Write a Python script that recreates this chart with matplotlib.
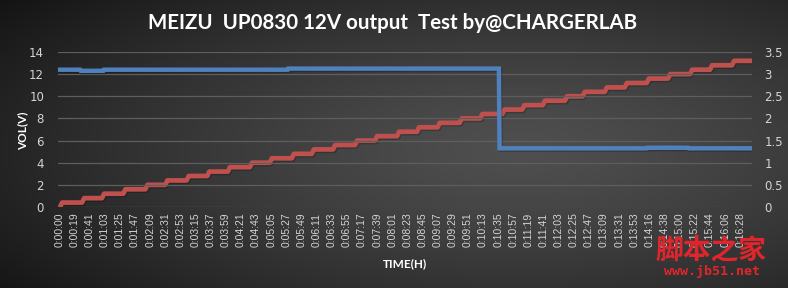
import numpy as np
import matplotlib
matplotlib.use("Agg")
import matplotlib.pyplot as plt
import matplotlib.patheffects as pe

# ---------------- data ----------------
time_labels = [
    "0:00:00", "0:00:19", "0:00:41", "0:01:03", "0:01:25", "0:01:47", "0:02:09",
    "0:02:31", "0:02:53", "0:03:15", "0:03:37", "0:03:59", "0:04:21", "0:04:43",
    "0:05:05", "0:05:27", "0:05:49", "0:06:11", "0:06:33", "0:06:55", "0:07:17",
    "0:07:39", "0:08:01", "0:08:23", "0:08:45", "0:09:07", "0:09:29", "0:09:51",
    "0:10:13", "0:10:35", "0:10:57", "0:11:19", "0:11:41", "0:12:03", "0:12:25",
    "0:12:47", "0:13:09", "0:13:31", "0:13:53", "0:14:16", "0:14:38", "0:15:00",
    "0:15:22", "0:15:44", "0:16:06", "0:16:28",
]
label_every = 22          # samples between category labels
n_samples = 1007          # samples recorded

# voltage (V): sample index where each level begins, and the level
volt_start = [0, 30, 64, 332, 639, 854, 914]
volt_level = [12.4, 12.3, 12.4, 12.5, 5.3, 5.35, 5.3]

# current (A): sample index where each load step begins, and the level reached
curr_start = [1, 33, 62, 93, 125, 154, 185, 215, 245, 277, 306, 338, 367, 398,
              430, 459, 491, 520, 550, 582, 612, 644, 673, 703, 735, 761, 793,
              822, 854, 885, 917, 946, 978]
curr_level = [0.1, 0.2, 0.3, 0.4, 0.5, 0.6, 0.7, 0.8, 0.9, 1.0, 1.1, 1.2, 1.3,
              1.4, 1.5, 1.6, 1.7, 1.8, 1.9, 2.0, 2.1, 2.2, 2.3, 2.4, 2.5, 2.6,
              2.7, 2.8, 2.9, 3.0, 3.1, 3.2, 3.3]

title = "MEIZU  UP0830 12V output  Test by@CHARGERLAB"

# ---------------- build step paths ----------------
def step_path(starts, levels, first_level, end, ramp):
    xs, ys = [starts[0]], [first_level]
    prev = first_level
    for s, v in zip(starts, levels):
        xs += [s, s + ramp]
        ys += [prev, v]
        prev = v
    xs.append(end)
    ys.append(prev)
    return xs, ys

vx, vy = step_path(volt_start[1:], volt_level[1:], volt_level[0], n_samples - 1, 1)
vx[0] = volt_start[0]
cx, cy = step_path(curr_start, curr_level, 0.0, n_samples - 1, 3)

# ---------------- figure ----------------
W, H = 788, 288
fig = plt.figure(figsize=(W / 100, H / 100), dpi=100)

# dark radial gradient background
bg = fig.add_axes([0, 0, 1, 1], zorder=-10)
gx, gy = np.meshgrid(np.linspace(0, 1, 400), np.linspace(0, 1, 150))
r = np.sqrt(((gx - 0.66) / 0.75) ** 2 + ((gy - 0.52) / 0.75) ** 2)
inten = np.clip(0.31 - 0.20 * r ** 1.3, 0.08, 0.4)
bg.imshow(np.dstack([inten] * 3), aspect="auto", extent=[0, 1, 0, 1], origin="upper")
bg.set_axis_off()

ax = fig.add_axes([58 / W, 1 - 207 / H, (752 - 58) / W, (207 - 52) / H])
ax.patch.set_alpha(0)
ax2 = ax.twinx()
ax2.patch.set_alpha(0)

grid_c = "#5e5e5e"
tick_c = "#d4d4d4"

ax.set_ylim(0, 14)
ax.set_yticks(np.arange(0, 15, 2))
ax2.set_ylim(0, 3.5)
ax2.set_yticks([0, 0.5, 1, 1.5, 2, 2.5, 3, 3.5])
ax2.set_yticklabels(["0", "0.5", "1", "1.5", "2", "2.5", "3", "3.5"])
ax.set_xlim(-2, n_samples)
ax.set_xticks(np.arange(len(time_labels)) * label_every)
ax.set_xticklabels(time_labels, rotation=90, fontsize=7.5, color=tick_c,
                   family="Liberation Sans")
ax.grid(axis="y", color=grid_c, linewidth=0.9)
ax.set_axisbelow(True)

for a in (ax, ax2):
    for s in a.spines.values():
        s.set_visible(False)
    a.tick_params(length=0, colors=tick_c)
for lbl in ax.get_yticklabels() + ax2.get_yticklabels():
    lbl.set_fontsize(8.5)
    lbl.set_color(tick_c)
ax.tick_params(axis="y", pad=10)
ax2.tick_params(axis="y", pad=9)
ax.tick_params(axis="x", pad=4)

shadow = [pe.SimpleLineShadow(offset=(0.8, -1.0), alpha=0.2, shadow_color="black"), pe.Normal()]
ax.plot(vx, vy, color="#4f81bd", linewidth=3.2, solid_joinstyle="miter",
        path_effects=shadow, zorder=3)
ax2.plot(cx, cy, color="#c0504d", linewidth=3.4, solid_joinstyle="round",
         path_effects=shadow, zorder=2)
ax.set_zorder(3)
ax2.set_zorder(2)

fig.text(393 / W, 1 - 23 / H, title, ha="center", va="center", color="white",
         fontsize=14.8, fontweight="bold", family="Lato")
fig.text(23 / W, 1 - 131 / H, "VOL(V)", rotation=90, ha="center", va="center",
         color="white", fontsize=8.5, fontweight="bold", family="Lato")
fig.text(405 / W, 1 - 264 / H, "TIME(H)", ha="center", va="center",
         color="white", fontsize=8.5, fontweight="bold", family="Lato")

# site watermark
fig.text(711 / W, 1 - 250 / H, "脚本之家", ha="center", va="center",
         color="#e0262c", fontsize=20, fontweight="bold",
         family=["Noto Sans CJK SC", "DejaVu Sans"])
fig.text(712 / W, 1 - 272 / H, "www.jb51.net", ha="center", va="center",
         color="#e0262c", fontsize=9.5, fontweight="bold", family="DejaVu Sans Mono")

fig.savefig("out.png", dpi=100)
